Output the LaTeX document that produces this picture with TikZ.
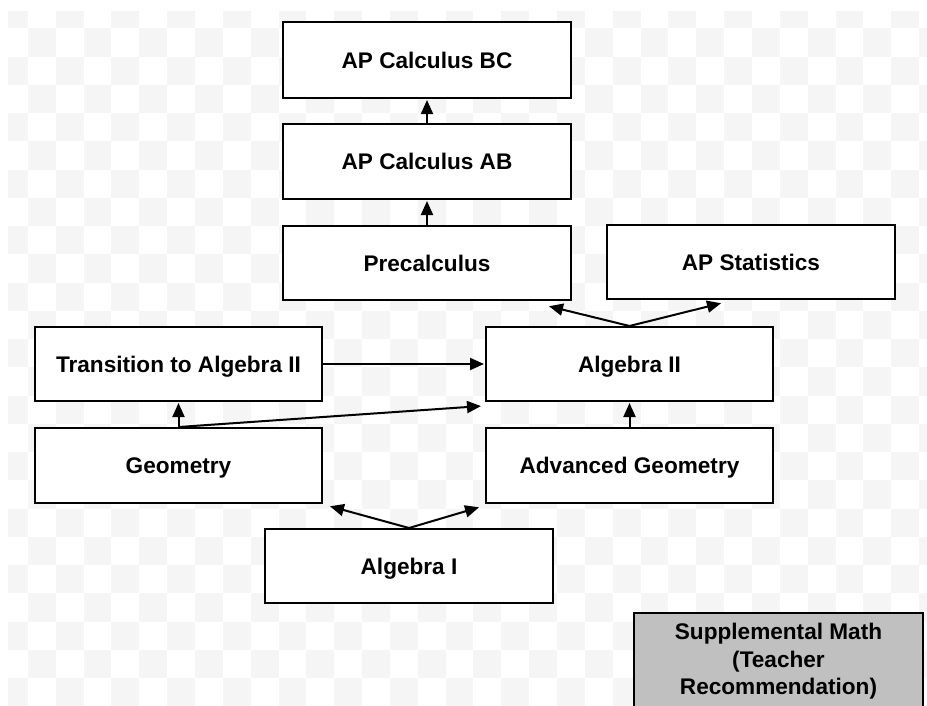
\documentclass[tikz,border=0pt]{standalone}
\usepackage{fontspec}
\setmainfont{Liberation Sans}
\usetikzlibrary{arrows.meta,calc}
\definecolor{bgsq}{RGB}{245,245,245}
\definecolor{suppfill}{RGB}{192,192,192}
\tikzset{
  course/.style={draw=black, line width=2pt, fill=white, minimum width=288pt,
    minimum height=75pt, inner sep=0pt, text height=16pt, text depth=0pt,
    font=\fontsize{22.6}{27.6}\selectfont\bfseries},
  arr/.style={line width=2pt, -{Triangle[length=14pt,width=12pt]}, shorten >=1pt},
}
\begin{document}
\begin{tikzpicture}[x=1pt,y=-1pt]
\useasboundingbox (0,0) rectangle (927,705);
\clip (0,0) rectangle (927,705);
% checkerboard background
\begin{scope}
\clip (8,11) rectangle (927,705);
\foreach \i in {0,...,33}{
  \foreach \j in {0,...,25}{
    \pgfmathtruncatemacro\cpar{mod(\i+\j,2)}
    \ifnum\cpar=0 \fill[bgsq] (\i*27.85,\j*28.25) rectangle ++(27.85,28.25);\fi
  }
}
\end{scope}
% courses
\node[course, minimum height=76pt] (bc)    at (427,60)    {AP Calculus BC};
\node[course] (ab)    at (427,161.5) {AP Calculus AB};
\node[course, minimum height=74pt] (pre)   at (427,263)   {Precalculus};
\node[course, minimum height=74pt] (stat)  at (751,262)   {AP Statistics};
\node[course, minimum width=287pt, minimum height=74pt] (alg2)  at (629.5,364) {Algebra II};
\node[course, minimum width=287pt, minimum height=74pt] (trans) at (178.5,364) {Transition to Algebra II};
\node[course, minimum width=287pt] (geo)   at (178.5,465.5) {Geometry};
\node[course, minimum width=287pt] (adv)   at (629.5,465.5) {Advanced Geometry};
\node[course, minimum height=74pt] (alg1)  at (409,566)   {Algebra I};
\node[draw=black, line width=2pt, fill=suppfill, minimum width=289pt, minimum height=97pt,
      inner sep=0pt, anchor=north, align=center,
      font=\fontsize{22.6}{27.6}\selectfont\bfseries] (supp) at (778.5,612)
      {Supplemental Math\\(Teacher\\Recommendation)};
% connectors
\draw[arr] (pre.north) -- (ab.south);
\draw[arr] (ab.north) -- (bc.south);
\draw[arr] (alg2.north) -- ($(pre.south east)+(-24,5)$);
\draw[arr] (alg2.north) -- ($(stat.south)+(-29,3)$);
\draw[arr] (trans.east) -- (alg2.west);
\draw[arr] (geo.north) -- (trans.south);
\draw[arr] (geo.north) -- ($(alg2.south west)+(-3,4)$);
\draw[arr] (adv.north) -- (alg2.south);
\draw[arr] (alg1.north) -- ($(geo.south east)+(6,2)$);
\draw[arr] (alg1.north) -- ($(adv.south west)+(-5,3)$);
\end{tikzpicture}
\end{document}
